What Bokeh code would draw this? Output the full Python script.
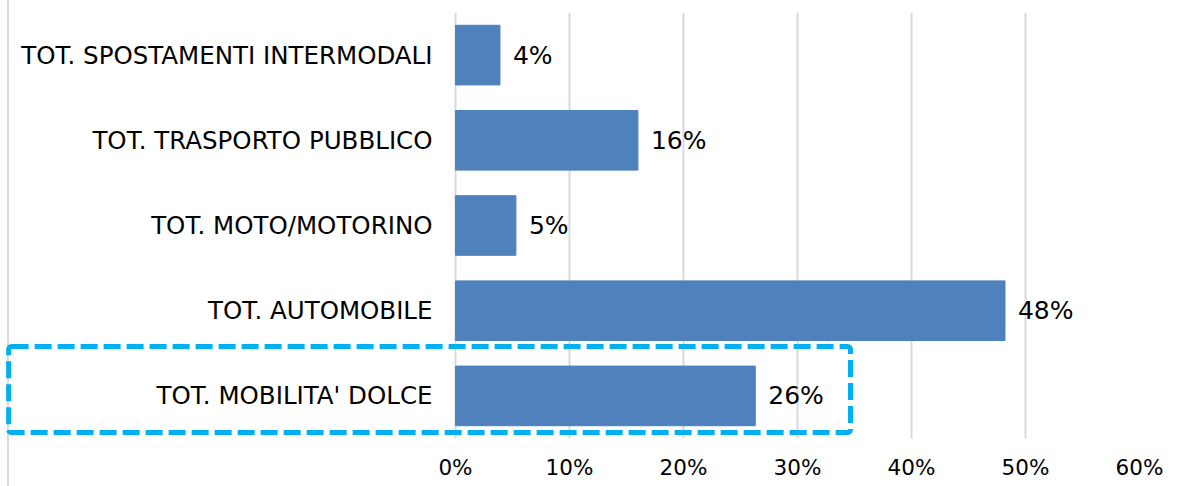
from bokeh.plotting import figure
from bokeh.models import ColumnDataSource, LabelSet, BoxAnnotation, FixedTicker, NumeralTickFormatter, FactorRange
from bokeh.core.properties import value
from bokeh.embed import file_html
from bokeh.resources import INLINE

categories = ["TOT. MOBILITA' DOLCE", "TOT. AUTOMOBILE", "TOT. MOTO/MOTORINO",
              "TOT. TRASPORTO PUBBLICO", "TOT. SPOSTAMENTI INTERMODALI"]
values = [0.263, 0.482, 0.053, 0.160, 0.039]
value_labels = ["26%", "48%", "5%", "16%", "4%"]
tick_values = [0.0, 0.1, 0.2, 0.3, 0.4, 0.5, 0.6]
highlight_category = "TOT. MOBILITA' DOLCE"

FONT = "DejaVu Sans"

src = ColumnDataSource(dict(cat=categories, val=values, lab=value_labels,
                            zero=[0.0] * len(categories)))

p = figure(width=1178, height=486, y_range=FactorRange(*categories),
           x_range=(-455 / 1140, 0.6),
           output_backend="svg", toolbar_location=None,
           min_border_left=0, min_border_right=39, min_border_top=12, min_border_bottom=48)

p.border_fill_color = None
p.background_fill_color = None
p.styles = {"background": "linear-gradient(90deg, #ffffff 0px, #ffffff 7px, #d9d9d9 7px, "
                          "#d9d9d9 9px, #ffffff 9px, #ffffff 100%)"}

p.outline_line_color = None
p.ygrid.grid_line_color = None
p.xgrid.grid_line_color = "#D9D9D9"
p.xgrid.grid_line_width = 2
p.xgrid.ticker = FixedTicker(ticks=tick_values)

# dashed highlight around the highlighted category
idx = categories.index(highlight_category)
p.add_layout(BoxAnnotation(left=-0.392, right=0.3465, bottom=idx + 0.07, top=idx + 1.08,
                           fill_alpha=0, line_color="#00B0F0", line_alpha=1, line_width=5,
                           line_dash="17 6", border_radius=3, level="underlay"))

p.hbar(y="cat", right="val", left=0, height=0.7, source=src,
       fill_color="#4F81BD", line_color="#4F81BD")

# category labels (left of the 0% line)
p.text(x="zero", y="cat", text="cat", source=src, x_offset=-23,
       text_align="right", text_baseline="middle",
       text_font=value(FONT), text_font_size="24.5px", text_color="#000000")

p.add_layout(LabelSet(x="val", y="cat", text="lab", source=src, x_offset=13,
                      text_align="left", text_baseline="middle",
                      text_font=value(FONT), text_font_size="25px", text_color="#000000"))

p.yaxis.visible = False

p.xaxis.ticker = FixedTicker(ticks=tick_values)
p.xaxis.formatter = NumeralTickFormatter(format="0%")
p.xaxis.axis_line_color = None
p.xaxis.major_tick_line_color = None
p.xaxis.minor_tick_line_color = None
p.xaxis.major_tick_out = 0
p.xaxis.major_tick_in = 0
p.xaxis.major_label_standoff = 16
p.xaxis.major_label_text_font = FONT
p.xaxis.major_label_text_font_size = "21.5px"
p.xaxis.major_label_text_color = "#000000"

open("out.html", "w").write(file_html(p, INLINE))
